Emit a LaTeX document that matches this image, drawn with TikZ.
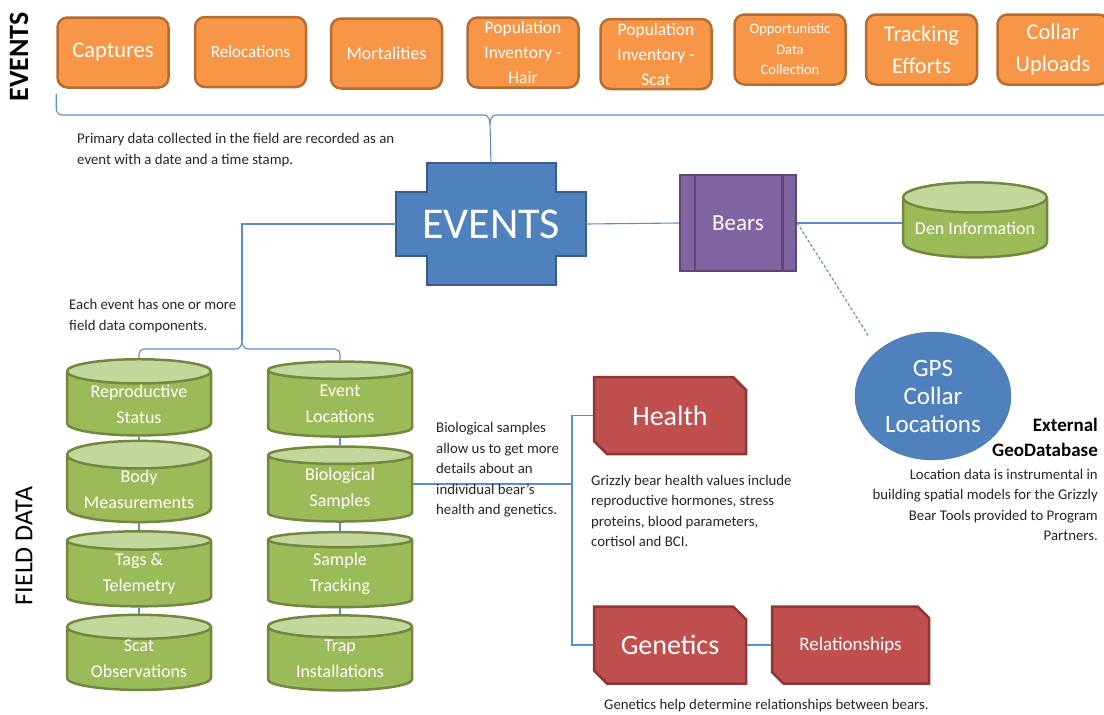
\documentclass[tikz,border=0pt]{standalone}
\usepackage{fontspec}
\setmainfont{Carlito}
\usetikzlibrary{shapes.geometric,shapes.misc}
\definecolor{orfill}{HTML}{F79646}
\definecolor{ordraw}{HTML}{B66D31}
\definecolor{blfill}{HTML}{4F81BD}
\definecolor{bldraw}{HTML}{385D8A}
\definecolor{pufill}{HTML}{8064A2}
\definecolor{pudraw}{HTML}{5C4776}
\definecolor{grfill}{HTML}{9BBB59}
\definecolor{grdraw}{HTML}{71893F}
\definecolor{grtop}{HTML}{C3D69B}
\definecolor{rdfill}{HTML}{C0504D}
\definecolor{rddraw}{HTML}{8C3836}
\definecolor{lnk}{HTML}{5B8CCB}
\tikzset{
  evtbox/.style={draw=ordraw, fill=orfill, line width=2.5pt, rounded corners=10pt,
    text=white, align=center, minimum width=111pt, minimum height=70pt, inner sep=1pt},
  datastore/.style={cylinder, shape border rotate=90, aspect=0.25, draw=grdraw,
    line width=2.5pt, cylinder uses custom fill, cylinder body fill=grfill,
    cylinder end fill=grtop, minimum width=144pt, minimum height=75pt, text=white,
    align=center, font=\fontsize{18}{26}\selectfont, inner sep=0pt},
  snipbox/.style={chamfered rectangle, chamfered rectangle corners={north east,south west},
    chamfered rectangle xsep=13pt, draw=rddraw, fill=rdfill, line width=2.5pt,
    text=white, minimum width=152pt, minimum height=77pt, inner sep=0pt},
  link/.style={draw=lnk, line width=1.1pt},
  note/.style={font=\fontsize{14.8}{20.5}\selectfont, text=black!85, inner sep=0pt},
}
\begin{document}
\begin{tikzpicture}[x=1pt, y=-1pt]
  \useasboundingbox (0,0) rectangle (1104,715);
  % Side titles
  \node[rotate=90, font=\fontsize{28}{30}\selectfont\bfseries] (evtitle) at (19,57) {EVENTS};
  \node[rotate=90, font=\fontsize{26}{28}\selectfont] (fdtitle) at (24,546) {FIELD DATA};

  % Event types
  \node[evtbox, font=\fontsize{22.5}{26}\selectfont] (cap) at (113,52.5) {Captures};
  \node[evtbox, font=\fontsize{17}{24}\selectfont] (rel) at (250.5,52) {Relocations};
  \node[evtbox, font=\fontsize{18}{24}\selectfont] (mort) at (386.5,53.5) {Mortalities};
  \node[evtbox, font=\fontsize{17.5}{25}\selectfont] (hair) at (523,52.5) {Population\\Inventory -\\Hair};
  \node[evtbox, font=\fontsize{17.5}{25}\selectfont] (scat) at (656,54) {Population\\Inventory -\\Scat};
  \node[evtbox, font=\fontsize{14.5}{20.5}\selectfont] (opp) at (790,49.5) {Opportunistic\\Data\\Collection};
  \node[evtbox, font=\fontsize{22.5}{32}\selectfont] (trk) at (921.5,49.5) {Tracking\\Efforts};
  \node[evtbox, font=\fontsize{22.5}{32}\selectfont] (upl) at (1053,49.5) {Collar\\Uploads};

  % Central events shape
  \filldraw[fill=blfill, draw=bldraw, line width=2.5pt]
    (396,192) -- (427,192) -- (427,163) -- (556,163) -- (556,192) -- (586,192)
    -- (586,256) -- (556,256) -- (556,285) -- (427,285) -- (427,256) -- (396,256) -- cycle;
  \node[minimum width=190pt, minimum height=122pt, text=white,
    font=\fontsize{44}{44}\selectfont] (ev) at (491,224) {EVENTS};

  % Bracket from the event types
  \draw[link, rounded corners=6pt] ([yshift=-5pt]cap.south west) |- (484,115);
  \draw[link] (484,115) to[out=0,in=90] (490,124) -- (ev.north);
  \draw[link] (1110,115) -- (496,115) to[out=180,in=90] (490,124);
  \node[note, anchor=west, align=left] (pri) at (77,150)
    {Primary data collected in the field are recorded as an\\event with a date and a time stamp.};

  % Bears and related tables
  \node[draw=pudraw, fill=pufill, line width=2.5pt, minimum width=116pt, minimum height=96pt,
    text=white, font=\fontsize{23}{26}\selectfont] (bears) at (738,223) {Bears};
  \draw[draw=pudraw, line width=2.5pt] ([xshift=16pt]bears.north west) -- ([xshift=16pt]bears.south west);
  \draw[draw=pudraw, line width=2.5pt] ([xshift=-15pt]bears.north east) -- ([xshift=-15pt]bears.south east);
  \node[datastore, font=\fontsize{18}{20}\selectfont] (den) at (975,228) {Den Information};
  \draw[link] (ev.east) -- (bears.west);
  \draw[link] (bears.east) -- (bears.east -| den.west);

  % GPS locations
  \node[ellipse, fill=blfill, draw=blfill!90!black, minimum width=156pt, minimum height=128pt,
    text=white, align=center, font=\fontsize{25}{28}\selectfont, inner sep=0pt] (gps) at (933,396)
    {GPS\\Collar\\Locations};
  \draw[link, dash pattern=on 3pt off 2pt, shorten >=17pt] (bears.east) -- (gps.north west);
  \node[anchor=east, align=right, font=\fontsize{19}{25}\selectfont\bfseries, inner sep=0pt] (ext)
    at (1098,437) {External\\GeoDatabase};
  \node[note, anchor=east, align=right] (loc) at (1098,505)
    {Location data is instrumental in\\building spatial models for the Grizzly\\Bear Tools provided to Program\\Partners.};

  % Field data components
  \node[datastore] (rs) at (139,404) {Reproductive\\Status};
  \node[datastore] (bm) at (139,489) {Body\\Measurements};
  \node[datastore] (tt) at (139,574) {Tags \&\\Telemetry};
  \node[datastore] (so) at (139,659) {Scat\\Observations};
  \node[datastore] (el) at (340,404) {Event\\Locations};
  \node[datastore] (bs) at (340,489) {Biological\\Samples};
  \node[datastore] (st) at (340,574) {Sample\\Tracking};
  \node[datastore] (ti) at (340,659) {Trap\\Installations};
  \draw[link] (rs.south) -- (bm.north);
  \draw[link] (bm.south) -- (tt.north);
  \draw[link] (tt.south) -- (so.north);
  \draw[link] (el.south) -- (bs.north);
  \draw[link] (bs.south) -- (st.north);
  \draw[link] (st.south) -- (ti.north);

  % Bracket to the field data
  \draw[link] (ev.west) -| (242,341);
  \draw[link, rounded corners=5pt] (rs.north) |- (236,349);
  \draw[link] (236,349) to[out=0,in=-90] (242,341) to[out=-90,in=180] (248,349);
  \draw[link, rounded corners=5pt] (248,349) -| (el.north);
  \node[note, anchor=west, align=left] (each) at (69,316)
    {Each event has one or more\\field data components.};

  % Biological samples
  \node[snipbox, font=\fontsize{28}{30}\selectfont] (health) at (670,415.5) {Health};
  \node[snipbox, font=\fontsize{28}{30}\selectfont] (gen) at (670,645) {Genetics};
  \node[snipbox, minimum width=157pt, font=\fontsize{19}{22}\selectfont] (relat) at (850.5,645) {Relationships};
  \coordinate (jn) at (572,484);
  \draw[link] (bs.east |- jn) -- (jn);
  \draw[link] (health.west) -| (jn) |- (gen.west);
  \draw[link] (gen.east) -- (relat.west);
  \node[note, anchor=west, align=left] (bio) at (436,470)
    {Biological samples\\allow us to get more\\details about an\\individual bear's\\health and genetics.};
  \node[note, anchor=west, align=left] (hv) at (591,511)
    {Grizzly bear health values include\\reproductive hormones, stress\\proteins, blood parameters,\\cortisol and BCI.};
  \node[note, anchor=west] (gn) at (604,706) {Genetics help determine relationships between bears.};
\end{tikzpicture}
\end{document}
